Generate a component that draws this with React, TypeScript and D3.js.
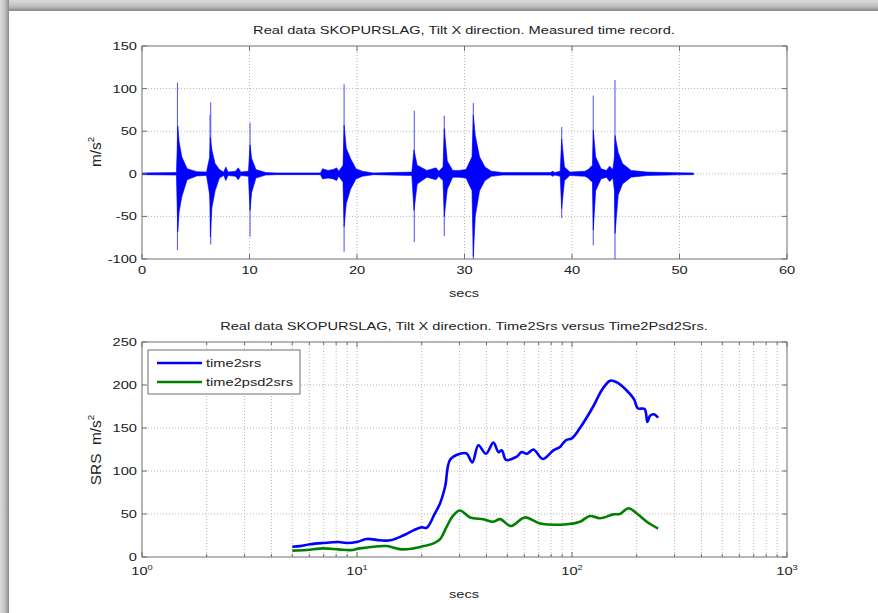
import React from 'react';
import * as d3 from 'd3';

// measured time record: dense envelope of the signal (secs, upper, lower)
const sigTime = [0, 3.2, 3.28, 3.33, 3.45, 3.7, 4.2, 5.1, 6.0, 6.3, 6.36, 6.5, 6.8, 7.2, 7.6, 7.8, 8.0, 8.7, 8.95, 9.2, 9.9, 10.05, 10.2, 10.6, 11.5, 12.5, 16.6, 16.8, 17.3, 17.8, 18.1, 18.3, 18.7, 18.8, 19.0, 19.4, 19.9, 20.5, 21.5, 25.1, 25.3, 25.6, 26.5, 27.35, 27.6, 28.0, 28.12, 28.4, 28.9, 29.5, 30.14, 30.7, 30.82, 31.0, 31.4, 31.9, 32.5, 33.5, 38.0, 38.2, 38.4, 38.9, 39.04, 39.3, 39.8, 41.2, 41.5, 41.9, 41.98, 42.2, 42.7, 43.2, 43.5, 43.8, 43.95, 44.0, 44.3, 44.7, 45.5, 47, 50, 51.3];
const sigUpper = [1, 1.5, 30, 56, 38, 20, 6, 2.5, 2, 20, 43, 28, 12, 5, 2, 8, 2, 3, 7, 2, 3, 34, 18, 5, 1.5, 1, 1, 6, 4, 5, 7, 3, 10, 57, 30, 18, 6, 3, 1, 2, 28, 10, 4, 7, 3, 8, 53, 15, 4, 4, 5, 20, 69, 45, 20, 8, 3, 1.5, 1.5, 3, 1.5, 3, 41, 8, 2, 3, 5, 10, 51, 20, 6, 4, 9, 5, 20, 45, 25, 12, 4, 2, 1.2, 1];
const sigLower = [-1, -1.5, -40, -68, -45, -27, -7, -2.5, -2, -25, -74, -40, -20, -5, -2, -8, -2, -3, -7, -2, -3, -43, -22, -5, -1.5, -1, -1, -6, -5, -6, -8, -3, -10, -62, -35, -18, -6, -3, -1, -2, -43, -12, -4, -7, -3, -8, -50, -18, -4, -4, -5, -20, -97, -50, -20, -8, -3, -1.5, -1.5, -3, -1.5, -3, -41, -8, -2, -3, -5, -10, -66, -20, -6, -4, -9, -5, -20, -70, -25, -12, -4, -2, -1.2, -1];

// thin peak spikes of each hit
const spikeTime = [3.3, 6.33, 6.39, 10.05, 18.8, 25.33, 28.12, 30.82, 39.04, 41.98, 44.0];
const spikeTop = [107, 69, 84, 60, 105, 74, 68, 83, 55, 92, 110];
const spikeBottom = [-89.5, -30, -83, -74, -91.5, -80, -73, -100, -52, -84, -100];

// SRS curves (secs, m/s^2)
const srsTime = [5, 5.44, 6.04, 6.97, 8.19, 8.96, 9.97, 11.1, 12.8, 14.3, 16.4, 18.3, 20, 21.1, 23, 24.3, 25.7, 27.1, 30.1, 32.3, 34.4, 36.7, 39.8, 43.1, 45.5, 47.2, 49.3, 55.3, 58.3, 61.6, 66.2, 73.1, 81.9, 87.9, 93.9, 99.8, 108.9, 125.5, 137.5, 150.4, 161.8, 177.3, 194.7, 202, 217.6, 224.2, 230.5, 239.9, 251.5];
const srsValue = [12, 12.6, 14.8, 16.3, 17.4, 16.3, 17.4, 21, 19.4, 19.4, 25, 31, 34.5, 34, 50.4, 62, 82, 113, 120, 120.5, 110, 130, 120, 133, 122, 124, 113, 116.6, 122, 120, 125, 114, 124, 128, 136, 138, 150, 175, 194, 205, 203, 195, 183, 173, 172, 157, 164, 166, 162];
const psdTime = [5, 5.83, 6.97, 8.19, 9.3, 10.3, 11.9, 13.7, 16.1, 18.3, 20.4, 22.7, 24.3, 26.1, 28, 30.1, 33.6, 38.7, 43.1, 46.3, 51.9, 60.3, 71, 94.7, 108.9, 121.2, 134.8, 155.8, 167, 182.9, 201.7, 222.8, 251.5];
const psdValue = [7.4, 8.1, 10, 8.9, 8, 10, 12, 12.7, 8.9, 10, 12.7, 15.8, 20.4, 35, 48, 54, 46, 43.8, 41, 44, 36, 46, 39, 38, 41, 47.7, 45, 49.6, 50, 56.6, 50, 41, 33];

const topXTicks = [0, 10, 20, 30, 40, 50, 60];
const topYTicks = [-100, -50, 0, 50, 100, 150];
const botXTicks = [1, 10, 100, 1000];
const botYTicks = [0, 50, 100, 150, 200, 250];
const legendLabels = ['time2srs', 'time2psd2srs'];
const legendColors = ['#0000ff', '#008000'];

const FONT = 'Liberation Sans, Arial, Helvetica, sans-serif';
const SX = 1.33;
const axisColor = '#6e6e6e';
const gridColor = '#b8b8b8';
const textColor = '#222';

const L = 142, R = 787;

function T({ x, y, anchor = 'middle', size = 11, children }: any) {
  return (
    <text transform={`translate(${x},${y}) scale(${SX},1)`} textAnchor={anchor}
      fontFamily={FONT} fontSize={size} fill={textColor}>{children}</text>
  );
}

function Pow({ x, y, exp }: any) {
  return (
    <text transform={`translate(${x},${y}) scale(${SX},1)`} textAnchor="middle"
      fontFamily={FONT} fontSize={11} fill={textColor}>
      10<tspan dy={-5} fontSize={7}>{exp}</tspan>
    </text>
  );
}

export default function App() {
  // top panel
  const tx = d3.scaleLinear().domain([0, 60]).range([L, R]);
  const ty = d3.scaleLinear().domain([-100, 150]).range([259, 46]);
  const env = sigTime.map((t, i) => ({ t, hi: sigUpper[i], lo: sigLower[i] }));
  const area = d3.area<any>().x(d => tx(d.t)).y0(d => ty(d.lo)).y1(d => ty(d.hi));

  // bottom panel
  const bx = d3.scaleLog().domain([1, 1000]).range([L, R]);
  const by = d3.scaleLinear().domain([0, 250]).range([557, 342]);
  const line = d3.line<any>().x(d => bx(d.t)).y(d => by(d.v)).curve(d3.curveCatmullRom.alpha(0.5));
  const srs = srsTime.map((t, i) => ({ t, v: srsValue[i] }));
  const psd = psdTime.map((t, i) => ({ t, v: psdValue[i] }));
  const minors: number[] = [];
  [1, 10, 100].forEach(dec => { for (let k = 2; k <= 9; k++) minors.push(dec * k); });

  return (
    <svg width={878} height={613} style={{ position: 'absolute', left: 0, top: 0, background: '#fff' }}>
      <defs>
        <linearGradient id="shTop" x1="0" x2="0" y1="0" y2="1">
          <stop offset="0%" stopColor="#dcdcdc" />
          <stop offset="60%" stopColor="#bdbdbd" />
          <stop offset="100%" stopColor="#888" />
        </linearGradient>
        <linearGradient id="shLeft" x1="0" x2="1" y1="0" y2="0">
          <stop offset="0%" stopColor="#dcdcdc" />
          <stop offset="60%" stopColor="#bdbdbd" />
          <stop offset="100%" stopColor="#888" />
        </linearGradient>
        <clipPath id="clipTop"><rect x={L} y={46} width={R - L} height={213} /></clipPath>
      </defs>
      <rect x={0} y={0} width={878} height={11} fill="url(#shTop)" />
      <rect x={0} y={0} width={9} height={613} fill="url(#shLeft)" />

      {/* ---------- top panel ---------- */}
      <T x={464} y={34}>Real data SKOPURSLAG, Tilt X direction. Measured time record.</T>
      {topXTicks.slice(1, -1).map(v => (
        <line key={'gx' + v} x1={tx(v)} x2={tx(v)} y1={46} y2={259} stroke={gridColor} strokeDasharray="1,2" />
      ))}
      {topYTicks.slice(1, -1).map(v => (
        <line key={'gy' + v} x1={L} x2={R} y1={ty(v)} y2={ty(v)} stroke={gridColor} strokeDasharray="1,2" />
      ))}
      <g clipPath="url(#clipTop)">
        {spikeTime.map((t, i) => (
          <line key={'sp' + i} x1={tx(t)} x2={tx(t)} y1={ty(spikeTop[i])} y2={ty(spikeBottom[i])}
            stroke="#5a5aff" strokeWidth={1.1} />
        ))}
        <path d={area(env) || ''} fill="#0000ff" stroke="#0000ff" strokeWidth={0.6} />
      </g>
      <rect x={L} y={46} width={R - L} height={213} fill="none" stroke={axisColor} />
      {topXTicks.map(v => (
        <g key={'tx' + v}>
          <line x1={tx(v)} x2={tx(v)} y1={259} y2={254} stroke={axisColor} />
          <line x1={tx(v)} x2={tx(v)} y1={46} y2={51} stroke={axisColor} />
          <T x={tx(v)} y={274}>{v}</T>
        </g>
      ))}
      {topYTicks.map(v => (
        <g key={'ty' + v}>
          <line x1={L} x2={L + 5} y1={ty(v)} y2={ty(v)} stroke={axisColor} />
          <line x1={R} x2={R - 5} y1={ty(v)} y2={ty(v)} stroke={axisColor} />
          <T x={137} y={ty(v) + 4} anchor="end">{v}</T>
        </g>
      ))}
      <T x={464} y={297}>secs</T>
      <text transform={`translate(101,152) rotate(-90) scale(1.4,${SX})`} textAnchor="middle"
        fontFamily={FONT} fontSize={11} fill={textColor}>
        m/s<tspan dy={-5} fontSize={7}>2</tspan>
      </text>

      {/* ---------- bottom panel ---------- */}
      <T x={464} y={330}>Real data SKOPURSLAG, Tilt X direction. Time2Srs versus Time2Psd2Srs.</T>
      {minors.concat([10, 100]).map(v => (
        <line key={'bgx' + v} x1={bx(v)} x2={bx(v)} y1={342} y2={557} stroke={gridColor} strokeDasharray="1,2" />
      ))}
      {botYTicks.slice(1, -1).map(v => (
        <line key={'bgy' + v} x1={L} x2={R} y1={by(v)} y2={by(v)} stroke={gridColor} strokeDasharray="1,2" />
      ))}
      <path d={line(psd) || ''} fill="none" stroke="#008000" strokeWidth={2.6} strokeLinejoin="round" />
      <path d={line(srs) || ''} fill="none" stroke="#0000ff" strokeWidth={2.6} strokeLinejoin="round" />
      <rect x={L} y={342} width={R - L} height={215} fill="none" stroke={axisColor} />
      {minors.map(v => (
        <g key={'mt' + v}>
          <line x1={bx(v)} x2={bx(v)} y1={557} y2={554} stroke={axisColor} />
          <line x1={bx(v)} x2={bx(v)} y1={342} y2={345} stroke={axisColor} />
        </g>
      ))}
      {botXTicks.map((v, i) => (
        <g key={'bx' + v}>
          <line x1={bx(v)} x2={bx(v)} y1={557} y2={552} stroke={axisColor} />
          <line x1={bx(v)} x2={bx(v)} y1={342} y2={347} stroke={axisColor} />
          <Pow x={bx(v)} y={575} exp={i} />
        </g>
      ))}
      {botYTicks.map(v => (
        <g key={'by' + v}>
          <line x1={L} x2={L + 5} y1={by(v)} y2={by(v)} stroke={axisColor} />
          <line x1={R} x2={R - 5} y1={by(v)} y2={by(v)} stroke={axisColor} />
          <T x={137} y={by(v) + 4} anchor="end">{v}</T>
        </g>
      ))}
      <T x={464} y={598}>secs</T>
      <text transform={`translate(101,450) rotate(-90) scale(1.4,${SX})`} textAnchor="middle"
        fontFamily={FONT} fontSize={11} fill={textColor} xmlSpace="preserve">
        SRS  m/s<tspan dy={-5} fontSize={7}>2</tspan>
      </text>

      {/* legend */}
      <rect x={148} y={350} width={152} height={44} fill="#fff" stroke={axisColor} />
      {legendLabels.map((lab, i) => (
        <g key={lab}>
          <line x1={157} x2={202} y1={363 + i * 19} y2={363 + i * 19} stroke={legendColors[i]} strokeWidth={2.6} />
          <T x={206} y={367 + i * 19} anchor="start">{lab}</T>
        </g>
      ))}
    </svg>
  );
}
